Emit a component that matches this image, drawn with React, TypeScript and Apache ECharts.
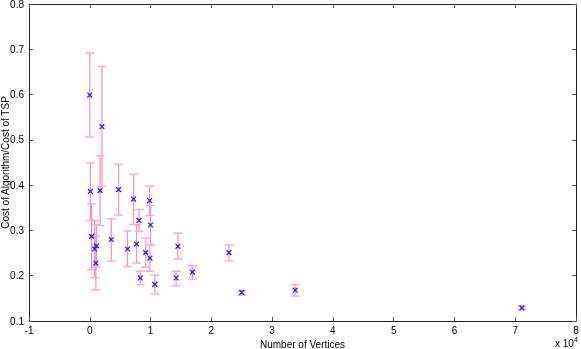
import React, { useEffect, useRef } from "react";
import * as echarts from "echarts";

// Number of vertices (in units of 10^4)
const xValues = [0.0, 0.2, 0.01, 0.03, 0.08, 0.11, 0.1, 0.17, 0.355, 0.475, 0.62, 0.72, 0.77, 0.81, 0.83, 0.92, 0.985, 1.0, 0.99, 1.07, 1.42, 1.45, 1.69, 2.29, 2.5, 3.38, 7.11];
// Cost of Algorithm / Cost of TSP
const yValues = [0.599, 0.529, 0.386, 0.287, 0.259, 0.266, 0.228, 0.388, 0.28, 0.39, 0.259, 0.369, 0.27, 0.322, 0.195, 0.251, 0.366, 0.312, 0.239, 0.181, 0.195, 0.265, 0.208, 0.251, 0.163, 0.168, 0.129];
const errLow = [0.506, 0.397, 0.322, 0.213, 0.196, 0.219, 0.169, 0.311, 0.232, 0.334, 0.22, 0.313, 0.228, 0.298, 0.18, 0.219, 0.333, 0.268, 0.21, 0.16, 0.178, 0.237, 0.192, 0.233, 0.157, 0.155, 0.125];
const errHigh = [0.692, 0.662, 0.449, 0.359, 0.322, 0.313, 0.287, 0.465, 0.326, 0.446, 0.299, 0.424, 0.313, 0.346, 0.21, 0.283, 0.398, 0.355, 0.268, 0.201, 0.21, 0.294, 0.222, 0.268, 0.167, 0.18, 0.133];

const xTicks = [-1, 0, 1, 2, 3, 4, 5, 6, 7, 8];
const yTicks = [0.1, 0.2, 0.3, 0.4, 0.5, 0.6, 0.7, 0.8];

const FONT = "'Liberation Sans', Arial, Helvetica, sans-serif";
const BAR_COLOR = "#ff8cbc";
const CAP_COLOR = "#ffb0cf";
const MARK_COLOR = "#1f1fff";

export default function App() {
  const ref = useRef<HTMLDivElement>(null);
  useEffect(() => {
    if (!ref.current) return;
    const chart = echarts.init(ref.current, undefined, { renderer: "svg" });
    const errData = xValues.map((x, i) => [x, errLow[i], errHigh[i]]);
    const ptData = xValues.map((x, i) => [x, yValues[i]]);
    const axisLine = { show: true, onZero: false, lineStyle: { color: "#222", width: 1 } };
    const tick = { show: true, inside: true, length: 4, lineStyle: { color: "#555" } };
    chart.setOption({
      animation: false,
      grid: {
        left: 29,
        right: 5,
        top: 4,
        bottom: 28,
        containLabel: false,
        outerBoundsMode: "none",
      },
      xAxis: [
        {
          type: "value",
          min: -1,
          max: 8,
          interval: 1,
          axisLine,
          axisTick: tick,
          splitLine: { show: false },
          axisLabel: {
            color: "#000",
            fontFamily: FONT,
            fontSize: 10,
            margin: 4,
            formatter: (v: number) => (xTicks.includes(v) ? String(v) : ""),
          },
          name: "Number of Vertices",
          nameLocation: "middle",
          nameGap: 15,
          nameTextStyle: { color: "#000", fontFamily: FONT, fontSize: 10 },
        },
        {
          type: "value",
          position: "top",
          min: -1,
          max: 8,
          interval: 1,
          axisLine,
          axisTick: tick,
          axisLabel: { show: false },
          splitLine: { show: false },
        },
      ],
      yAxis: [
        {
          type: "value",
          min: 0.1,
          max: 0.8,
          interval: 0.1,
          axisLine,
          axisTick: tick,
          splitLine: { show: false },
          axisLabel: {
            color: "#000",
            fontFamily: FONT,
            fontSize: 10,
            margin: 5,
            formatter: (v: number) => {
              const t = yTicks.find((y) => Math.abs(y - v) < 1e-6);
              return t !== undefined ? t.toFixed(1) : "";
            },
          },
          name: "Cost of Algorithm/Cost of TSP",
          nameLocation: "middle",
          nameGap: 19,
          nameMoveOverlap: false,
          nameTextStyle: { color: "#000", fontFamily: FONT, fontSize: 10 },
        },
        {
          type: "value",
          position: "right",
          min: 0.1,
          max: 0.8,
          interval: 0.1,
          axisLine,
          axisTick: tick,
          axisLabel: { show: false },
          splitLine: { show: false },
        },
      ],
      graphic: [
        {
          type: "text",
          x: 555,
          y: 338,
          style: { text: "x 10", fill: "#000", font: `10px ${FONT}` },
        },
        {
          type: "text",
          x: 574,
          y: 336,
          style: { text: "4", fill: "#000", font: `7px ${FONT}` },
        },
      ],
      series: [
        {
          type: "custom",
          xAxisIndex: 0,
          yAxisIndex: 0,
          data: errData,
          encode: { x: 0, y: [1, 2] },
          renderItem: (params: any, api: any) => {
            const x = api.value(0);
            const lo = api.coord([x, api.value(1)]);
            const hi = api.coord([x, api.value(2)]);
            const hw = 4.5;
            return {
              type: "group",
              children: [
                {
                  type: "line",
                  shape: { x1: lo[0], y1: lo[1], x2: hi[0], y2: hi[1] },
                  style: { stroke: BAR_COLOR, lineWidth: 1.2 },
                },
                {
                  type: "line",
                  shape: { x1: lo[0] - hw, y1: lo[1], x2: lo[0] + hw, y2: lo[1] },
                  style: { stroke: CAP_COLOR, lineWidth: 1.6 },
                },
                {
                  type: "line",
                  shape: { x1: hi[0] - hw, y1: hi[1], x2: hi[0] + hw, y2: hi[1] },
                  style: { stroke: CAP_COLOR, lineWidth: 1.6 },
                },
              ],
            };
          },
        },
        {
          type: "custom",
          xAxisIndex: 0,
          yAxisIndex: 0,
          data: ptData,
          encode: { x: 0, y: 1 },
          renderItem: (params: any, api: any) => {
            const p = api.coord([api.value(0), api.value(1)]);
            const s = 2.4;
            return {
              type: "group",
              children: [
                {
                  type: "line",
                  shape: { x1: p[0] - s, y1: p[1] - s, x2: p[0] + s, y2: p[1] + s },
                  style: { stroke: MARK_COLOR, lineWidth: 1.3 },
                },
                {
                  type: "line",
                  shape: { x1: p[0] - s, y1: p[1] + s, x2: p[0] + s, y2: p[1] - s },
                  style: { stroke: MARK_COLOR, lineWidth: 1.3 },
                },
              ],
            };
          },
        },
      ],
    });
    return () => chart.dispose();
  }, []);
  return (
    <div
      ref={ref}
      style={{ position: "fixed", left: 0, top: 0, width: 581, height: 349 }}
    />
  );
}
